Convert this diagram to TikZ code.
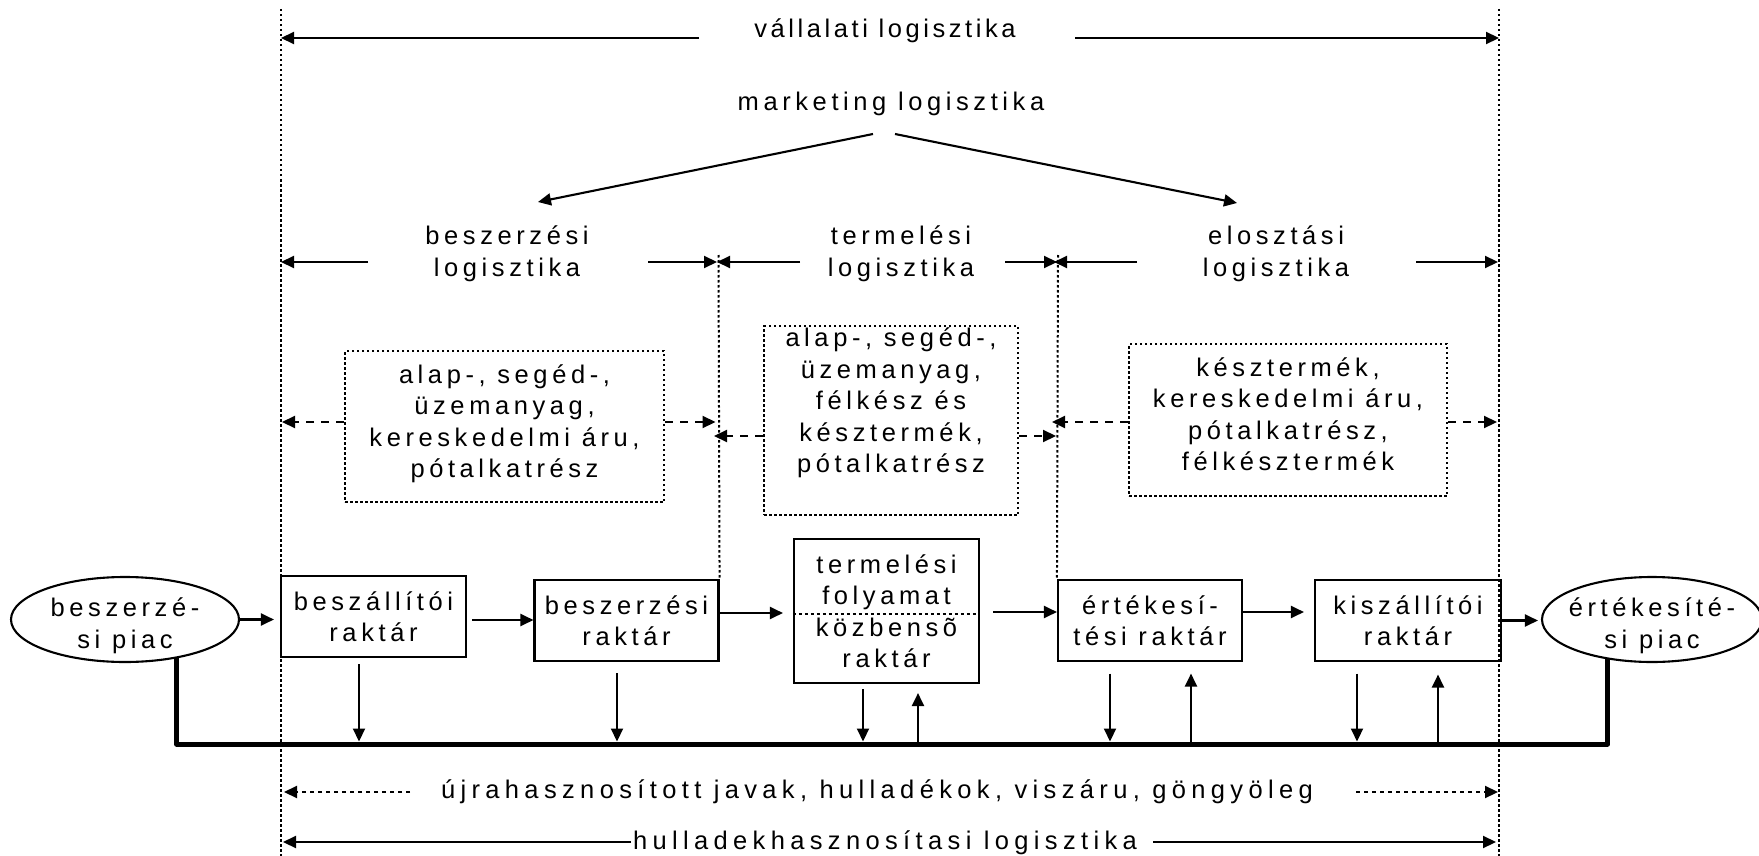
\documentclass[tikz,border=0pt]{standalone}
\usepackage{fontspec}
\setmainfont{Liberation Sans}[LetterSpace=18]
\usetikzlibrary{arrows.meta,shapes.geometric}

\begin{document}
\begin{tikzpicture}[x=1pt,y=-1pt,
  every node/.style={font=\fontsize{25.5pt}{31.5pt}\selectfont, inner sep=0pt},
  lbl/.style={align=center},
  wide/.style={font=\fontsize{25.5pt}{31.5pt}\selectfont\addfontfeature{LetterSpace=21}},
  tight/.style={font=\fontsize{25.5pt}{31.5pt}\selectfont\addfontfeature{LetterSpace=14}},
  guide/.style={line width=2pt, dash pattern=on 2.5pt off 2.5pt},
  arr/.style={line width=2.1pt, -{Triangle[length=13pt,width=12pt]}},
  darr/.style={arr, dash pattern=on 8pt off 7pt},
  rarr/.style={arr, dash pattern=on 4pt off 4pt},
  box/.style={draw, line width=2.1pt, rectangle, align=center},
  dbox/.style={draw, line width=2pt, dash pattern=on 2.5pt off 2.5pt},
  oval/.style={draw, ellipse, line width=2.1pt},
  bus/.style={line width=5pt, line join=round}]

\fill[white] (0,0) rectangle (1759,856);
\useasboundingbox (0,0) rectangle (1759,856);

% boundary guides of the logistics areas
\coordinate (Lt) at (281,9);   \coordinate (Lb) at (281,856);
\coordinate (Rt) at (1499,9);  \coordinate (Rb) at (1499,856);
\coordinate (M1t) at (718.5,255);
\coordinate (M2t) at (1058,255);

% material flow row
\node[oval, minimum width=228pt, minimum height=85pt] (p1) at (125,619.5) {};
\node[lbl] (p1t) at (125,626) {beszerzé-\\si piac};
\node[box, minimum width=185pt, minimum height=81pt] (b1) at (373.5,616.5) {beszállítói\\raktár};
\node[box, minimum width=184pt, minimum height=81pt] (b2) at (626.5,620.5) {beszerzési\\raktár};
\node[box, minimum width=185pt, minimum height=144pt] (b3) at (886.5,611) {termelési\\folyamat\\közbensõ\\raktár};
\node[box, minimum width=184pt, minimum height=81pt] (b4) at (1150,620.5) {értékesí-\\tési raktár};
\node[box, minimum width=186pt, minimum height=81pt] (b5) at (1408,620.5) {kiszállítói\\raktár};
\node[oval, minimum width=220pt, minimum height=85pt] (p2) at (1652,619.5) {};
\node[lbl] (p2t) at (1652,626) {értékesíté-\\si piac};

\draw[guide] (Lt) -- (Lb);
\draw[guide] (Rt) -- (Rb);
\draw[guide] (M1t) -- (b2.north east);
\draw[guide] (M2t) -- (b4.north west);

% divider inside the production box
\draw[line width=1.6pt, dash pattern=on 3pt off 3pt] ([yshift=-3pt]b3.west) -- ([yshift=-3pt]b3.east);

% top level
\node[tight] (vl) at (885,31) {vállalati logisztika};
\coordinate (vlA) at (699,38); \coordinate (vlB) at (1075,38);
\draw[arr] (vlA) -- (vlA -| Lt);
\draw[arr] (vlB) -- (vlB -| Rt);

\node (mk) at (891,104) {marketing logisztika};
\coordinate (mkA) at (873,134); \coordinate (mkB) at (895,134);
\coordinate (besTip) at (538,202); \coordinate (eloTip) at (1237,203);
\draw[arr] (mkA) -- (besTip);
\draw[arr] (mkB) -- (eloTip);

% sub-areas
\node[lbl] (bes) at (507,254) {beszerzési\\logisztika};
\node[lbl] (ter) at (901,254) {termelési\\logisztika};
\node[lbl] (elo) at (1276,254) {elosztási\\logisztika};
\coordinate (besA) at (368,262); \coordinate (besB) at (648,262);
\coordinate (terA) at (800,262); \coordinate (terB) at (1005,262);
\coordinate (eloA) at (1137,262); \coordinate (eloB) at (1416,262);
\draw[arr] (besA) -- (besA -| Lt);
\draw[arr, shorten >=1.5pt] (besB) -- (besB -| M1t);
\draw[arr, shorten >=-1.5pt] (terA) -- (terA -| M1t);
\draw[arr, shorten >=1pt] (terB) -- (terB -| M2t);
\draw[arr, shorten >=-4pt] (eloA) -- (eloA -| M2t);
\draw[arr, shorten >=1pt] (eloB) -- (eloB -| Rt);

% goods handled in each area
\node[dbox, minimum width=319pt, minimum height=151pt] (d1) at (504.5,426.5) {};
\node[lbl] (t1) at (504.5,424) {alap-, segéd-,\\üzemanyag,\\kereskedelmi áru,\\pótalkatrész};
\node[dbox, minimum width=254pt, minimum height=189pt] (d2) at (891,420.5) {};
\node[lbl] (t2) at (891,403) {alap-, segéd-,\\üzemanyag,\\félkész és\\késztermék,\\pótalkatrész};
\node[dbox, minimum width=318pt, minimum height=152pt] (d3) at (1288,420) {};
\node[lbl] (t3) at (1288,414) {késztermék,\\kereskedelmi áru,\\pótalkatrész,\\félkésztermék};

\coordinate (d1L) at ([yshift=4.5pt]d1.west);  \coordinate (d1R) at ([yshift=4.5pt]d1.east);
\coordinate (d2L) at ([yshift=-15.5pt]d2.west); \coordinate (d2R) at ([yshift=-15.5pt]d2.east);
\coordinate (d3L) at ([yshift=-2pt]d3.west);   \coordinate (d3R) at ([yshift=-2pt]d3.east);
\draw[darr, shorten >=1pt] (d1L) -- (d1L -| Lt);
\draw[darr, shorten >=3pt] (d1R) -- (d1R -| M1t);
\draw[darr, shorten >=-4.5pt] (d2L) -- (d2L -| M1t);
\draw[darr, shorten >=2pt] (d2R) -- (d2R -| M2t);
\draw[darr, shorten >=-6pt] (d3L) -- (d3L -| M2t);
\draw[darr, shorten >=2pt] (d3R) -- (d3R -| Rt);

% forward flow
\coordinate (b1o) at ([xshift=5pt,yshift=-3.5pt]b1.east);
\coordinate (b2o) at ([yshift=7.5pt]b2.east);
\coordinate (b3o) at ([xshift=13pt,yshift=-1pt]b3.east);
\coordinate (b4o) at ([yshift=8.5pt]b4.east);
\draw[arr, shorten >=6pt] (p1.east) -- (p1.east -| b1.west);
\draw[arr] (b1o) -- (b1o -| b2.west);
\draw[arr, shorten >=10pt] (b2o) -- (b2o -| b3.west);
\draw[arr] (b3o) -- (b3o -| b4.west);
\draw[arr, shorten >=10pt] (b4o) -- (b4o -| b5.west);
\draw[arr, shorten >=3pt] (b5.east) -- (b5.east -| p2.west);

% return line
\coordinate (busline) at (0,744);
\coordinate (bus) at (0,741.5);
\draw[bus] (p1.-37) -- (p1.-37 |- busline) -- (p2.-138 |- busline) -- (p2.-138);

\coordinate (v1) at ([xshift=-14.5pt,yshift=-6pt]b1.south);
\coordinate (v2) at ([xshift=-9.5pt,yshift=-11pt]b2.south);
\coordinate (v3) at ([xshift=-23.5pt,yshift=-5pt]b3.south);
\coordinate (u3) at ([xshift=31.5pt,yshift=-9pt]b3.south);
\coordinate (v4) at ([xshift=-40pt,yshift=-11.5pt]b4.south);
\coordinate (u4) at ([xshift=41pt,yshift=-11.5pt]b4.south);
\coordinate (v5) at ([xshift=-51pt,yshift=-11.5pt]b5.south);
\coordinate (u5) at ([xshift=30pt,yshift=-12.5pt]b5.south);
\draw[arr] (v1) -- (v1 |- bus);
\draw[arr] (v2) -- (v2 |- bus);
\draw[arr] (v3) -- (v3 |- bus);
\draw[arr] (u3 |- bus) -- (u3);
\draw[arr] (v4) -- (v4 |- bus);
\draw[arr] (u4 |- bus) -- (u4);
\draw[arr] (v5) -- (v5 |- bus);
\draw[arr] (u5 |- bus) -- (u5);

% reverse logistics
\node[wide] (uj) at (877,792) {újrahasznosított javak, hulladékok, viszáru, göngyöleg};
\coordinate (ujA) at (410,792); \coordinate (ujB) at (1356,792);
\draw[rarr, shorten >=3pt] (ujA) -- (ujA -| Lt);
\draw[rarr, shorten >=1pt] (ujB) -- (ujB -| Rt);

\node[wide] (hl) at (885,843) {hulladekhasznosítasi logisztika};
\coordinate (hlA) at (631,842); \coordinate (hlB) at (1153,842);
\draw[arr, shorten >=2pt] (hlA) -- (hlA -| Lt);
\draw[arr, shorten >=3pt] (hlB) -- (hlB -| Rt);
\end{tikzpicture}
\end{document}
